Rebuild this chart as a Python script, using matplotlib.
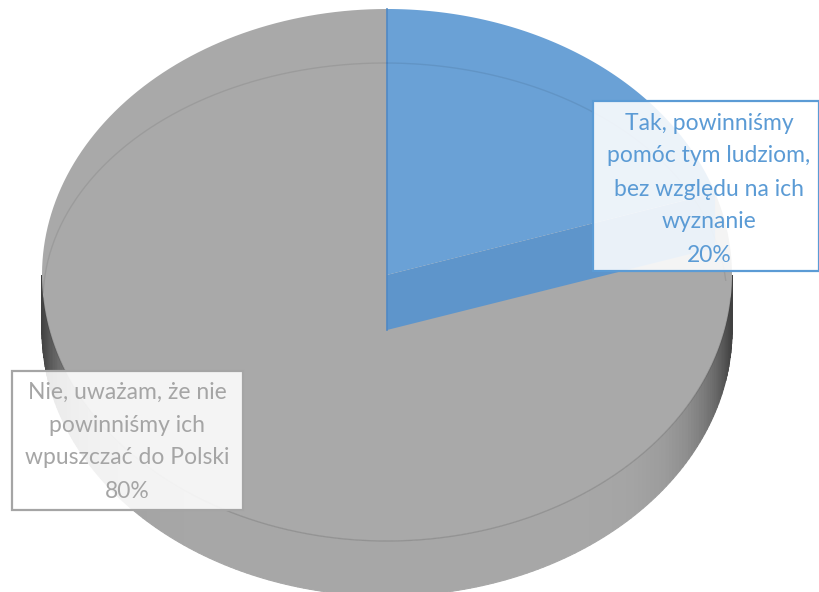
import numpy as np
import matplotlib.pyplot as plt
from matplotlib.patches import Polygon, FancyBboxPatch

# answers and their shares
labels = ["Tak, powinniśmy\npomóc tym ludziom,\nbez względu na ich\nwyznanie",
          "Nie, uważam, że nie\npowinniśmy ich\nwpuszczać do Polski"]
values = [20, 80]
colors = ["#6aa1d6", "#a9a9a9"]
text_colors = ["#5b9bd5", "#a5a5a5"]

# 3D pie geometry in pixel units (y grows downward)
cx, cy = 387, 275
a, b = 345, 266
depth = 55

fig = plt.figure(figsize=(8.19, 5.92), dpi=100)
ax = fig.add_axes([0, 0, 1, 1])
ax.set_xlim(0, 819)
ax.set_ylim(592, 0)
ax.axis("off")


def rim(theta, dy=0.0):
    t = np.radians(theta)
    return np.column_stack([cx + a * np.cos(t), cy - b * np.sin(t) + dy])


# front side of the cylinder, shaded in thin strips
edges = np.linspace(180, 360, 181)
for t0, t1 in zip(edges[:-1], edges[1:]):
    mid = np.radians((t0 + t1) / 2)
    c = np.cos(mid)
    shade = 0.655 - 0.40 * abs(c) ** 10
    top = rim(np.array([t0, t1]))
    bot = rim(np.array([t1, t0]), depth)
    col = (shade, shade, shade)
    ax.add_patch(Polygon(np.vstack([top, bot]), closed=True,
                         facecolor=col, edgecolor=col, lw=0.8, zorder=1))

# top face sectors, clockwise from 12 o'clock
fracs = np.array(values) / sum(values)
start = 90.0
sectors = []
for frac, col in zip(fracs, colors):
    end = start - 360 * frac
    arc = rim(np.linspace(start, end, 200))
    pts = np.vstack([[cx, cy], arc])
    ax.add_patch(Polygon(pts, closed=True, facecolor=col, edgecolor="none",
                         zorder=2))
    sectors.append((start, end))
    start = end

# cut face of the blue slice
s0, s1 = sectors[0]
p = rim(np.array([s1]))[0]
face = [[cx, cy], p, [p[0], p[1] + depth], [cx, cy + depth]]
ax.add_patch(Polygon(face, closed=True, facecolor="#5e95cb",
                     edgecolor="none", zorder=3))
ax.plot([cx, cx], [cy - b, cy + depth], color="#4f88c4", lw=1.2, zorder=4)

# rim lines on the top face
t = np.radians(np.linspace(5, 178, 200))
ax.plot(385 + 342 * np.cos(t), 301 - 238 * np.sin(t), color="k",
        alpha=0.08, lw=1, zorder=4)
front = rim(np.linspace(185, 355, 200))
ax.plot(front[:, 0], front[:, 1], color="k", alpha=0.12, lw=1, zorder=4)

# data labels
boxes = [(593, 101, 226, 170, 709), (12, 371, 231, 139, 127)]
tops = [123, 392]
for lab, v, tc, (x0, y0, w, h, xc), ty in zip(labels, values, text_colors,
                                              boxes, tops):
    ax.add_patch(FancyBboxPatch((x0, y0), w, h, boxstyle="square,pad=0",
                                facecolor="white", alpha=0.88,
                                edgecolor="none", zorder=5))
    ax.add_patch(FancyBboxPatch((x0, y0), w, h, boxstyle="square,pad=0",
                                facecolor="none", edgecolor=tc, lw=1.6,
                                zorder=6))
    lines = lab.split("\n") + [f"{v}%"]
    for i, line in enumerate(lines):
        ax.text(xc, ty + i * 33, line, ha="center", va="center",
                fontsize=16.5, color=tc, family="Lato", zorder=7)

fig.savefig("out.png", dpi=100)
